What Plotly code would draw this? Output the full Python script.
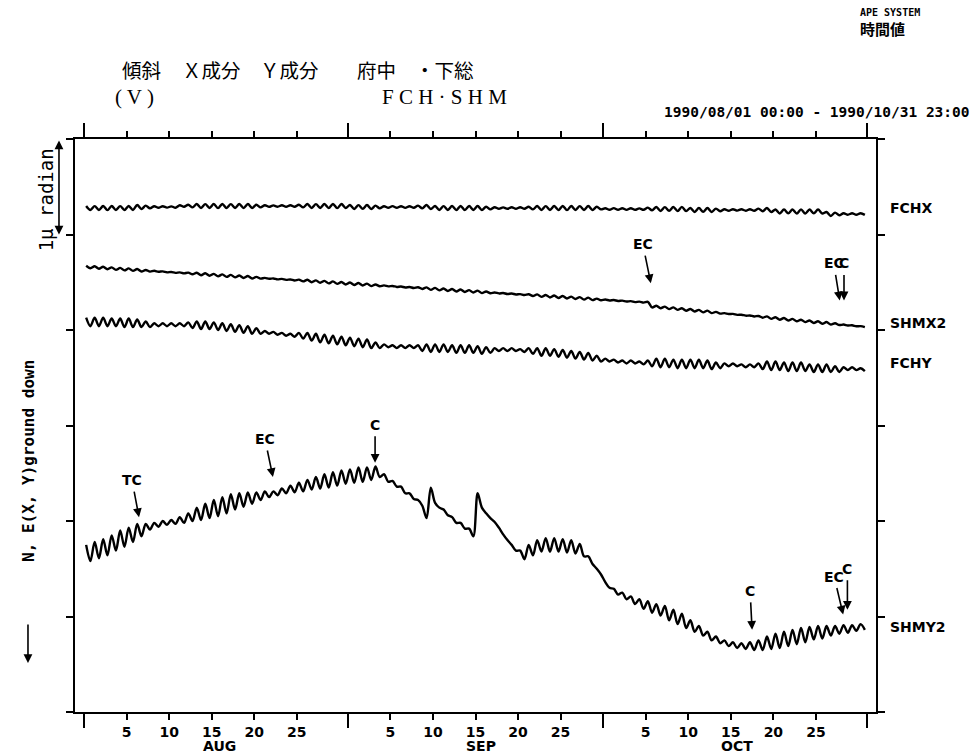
import plotly.graph_objects as go

# Hourly tilt record 1990/08/01 - 1990/10/31, read as alternating crest/trough
# values every 12 hours (units: micro-radian, stacked offsets per channel).
SAMPLE_STEP_DAYS = 0.5
SAMPLE_START_DAY = 0.25

fchx = [
    5.298, 5.256, 5.297, 5.257, 5.299, 5.255, 5.298, 5.256,
    5.297, 5.256, 5.299, 5.257, 5.309, 5.267, 5.302, 5.274,
    5.296, 5.280, 5.296, 5.281, 5.295, 5.280, 5.306, 5.290,
    5.312, 5.284, 5.319, 5.277, 5.318, 5.278, 5.319, 5.276,
    5.320, 5.277, 5.318, 5.278, 5.319, 5.277, 5.319, 5.278,
    5.312, 5.284, 5.306, 5.290, 5.305, 5.291, 5.306, 5.290,
    5.307, 5.290, 5.312, 5.284, 5.319, 5.277, 5.318, 5.278,
    5.319, 5.277, 5.320, 5.276, 5.319, 5.277, 5.309, 5.267,
    5.308, 5.268, 5.309, 5.267, 5.302, 5.274, 5.296, 5.280,
    5.297, 5.280, 5.296, 5.279, 5.296, 5.280, 5.302, 5.274,
    5.309, 5.267, 5.298, 5.256, 5.297, 5.257, 5.298, 5.256,
    5.299, 5.256, 5.298, 5.257, 5.298, 5.256, 5.291, 5.263,
    5.285, 5.269, 5.284, 5.269, 5.285, 5.270, 5.285, 5.269,
    5.291, 5.263, 5.298, 5.256, 5.297, 5.257, 5.298, 5.256,
    5.299, 5.255, 5.298, 5.256, 5.297, 5.257, 5.298, 5.256,
    5.291, 5.263, 5.275, 5.259, 5.276, 5.259, 5.275, 5.258,
    5.275, 5.259, 5.274, 5.259, 5.281, 5.253, 5.288, 5.246,
    5.287, 5.247, 5.288, 5.246, 5.289, 5.246, 5.278, 5.236,
    5.277, 5.237, 5.278, 5.236, 5.271, 5.243, 5.265, 5.249,
    5.265, 5.250, 5.264, 5.249, 5.265, 5.249, 5.271, 5.243,
    5.278, 5.236, 5.262, 5.220, 5.261, 5.221, 5.262, 5.220,
    5.263, 5.220, 5.262, 5.221, 5.262, 5.220, 5.236, 5.194,
    5.229, 5.201, 5.223, 5.207, 5.222, 5.207, 5.223, 5.206,
]

shmx2 = [
    4.673, 4.647, 4.667, 4.641, 4.662, 4.636, 4.656, 4.630,
    4.650, 4.624, 4.645, 4.619, 4.639, 4.613, 4.629, 4.611,
    4.620, 4.610, 4.614, 4.604, 4.608, 4.598, 4.603, 4.593,
    4.601, 4.583, 4.599, 4.573, 4.594, 4.568, 4.588, 4.562,
    4.582, 4.556, 4.577, 4.551, 4.571, 4.545, 4.565, 4.539,
    4.556, 4.538, 4.546, 4.536, 4.540, 4.530, 4.535, 4.525,
    4.529, 4.519, 4.527, 4.509, 4.526, 4.500, 4.520, 4.494,
    4.514, 4.488, 4.509, 4.483, 4.503, 4.477, 4.497, 4.471,
    4.492, 4.466, 4.486, 4.460, 4.476, 4.458, 4.467, 4.457,
    4.461, 4.451, 4.455, 4.445, 4.450, 4.440, 4.448, 4.430,
    4.446, 4.420, 4.441, 4.415, 4.435, 4.409, 4.429, 4.403,
    4.424, 4.398, 4.418, 4.392, 4.412, 4.386, 4.403, 4.385,
    4.393, 4.383, 4.387, 4.377, 4.382, 4.372, 4.376, 4.366,
    4.374, 4.356, 4.373, 4.347, 4.367, 4.341, 4.361, 4.335,
    4.356, 4.330, 4.350, 4.324, 4.344, 4.318, 4.339, 4.313,
    4.329, 4.311, 4.319, 4.309, 4.314, 4.304, 4.308, 4.298,
    4.302, 4.292, 4.297, 4.287, 4.295, 4.236, 4.254, 4.228,
    4.245, 4.219, 4.237, 4.211, 4.228, 4.202, 4.220, 4.194,
    4.211, 4.185, 4.203, 4.177, 4.190, 4.172, 4.177, 4.167,
    4.169, 4.159, 4.160, 4.150, 4.152, 4.142, 4.147, 4.129,
    4.143, 4.117, 4.134, 4.108, 4.125, 4.099, 4.117, 4.091,
    4.108, 4.082, 4.100, 4.074, 4.091, 4.065, 4.083, 4.057,
    4.070, 4.052, 4.057, 4.047, 4.049, 4.039, 4.040, 4.030,
]

fchy = [
    4.13, 4.04, 4.13, 4.04, 4.13, 4.04, 4.12, 4.04,
    4.12, 4.03, 4.12, 4.03, 4.11, 4.03, 4.09, 4.03,
    4.07, 4.04, 4.07, 4.04, 4.07, 4.04, 4.07, 4.04,
    4.08, 4.02, 4.09, 4.01, 4.09, 4.01, 4.08, 4.00,
    4.07, 3.99, 4.06, 3.98, 4.05, 3.97, 4.04, 3.96,
    4.02, 3.96, 3.99, 3.96, 3.98, 3.95, 3.97, 3.94,
    3.96, 3.93, 3.97, 3.91, 3.97, 3.89, 3.96, 3.87,
    3.95, 3.86, 3.94, 3.85, 3.93, 3.84, 3.92, 3.83,
    3.91, 3.82, 3.90, 3.81, 3.87, 3.81, 3.85, 3.82,
    3.84, 3.81, 3.84, 3.81, 3.84, 3.81, 3.84, 3.78,
    3.85, 3.77, 3.85, 3.77, 3.85, 3.77, 3.84, 3.76,
    3.84, 3.76, 3.84, 3.76, 3.83, 3.75, 3.82, 3.76,
    3.81, 3.78, 3.81, 3.78, 3.81, 3.78, 3.80, 3.77,
    3.81, 3.75, 3.81, 3.73, 3.81, 3.73, 3.80, 3.72,
    3.79, 3.71, 3.78, 3.70, 3.77, 3.69, 3.76, 3.68,
    3.73, 3.67, 3.70, 3.67, 3.69, 3.66, 3.68, 3.65,
    3.68, 3.65, 3.67, 3.64, 3.68, 3.62, 3.70, 3.61,
    3.70, 3.61, 3.69, 3.60, 3.69, 3.60, 3.69, 3.60,
    3.69, 3.60, 3.68, 3.59, 3.66, 3.60, 3.65, 3.62,
    3.65, 3.62, 3.64, 3.61, 3.64, 3.61, 3.65, 3.59,
    3.67, 3.58, 3.67, 3.58, 3.66, 3.57, 3.66, 3.57,
    3.66, 3.57, 3.64, 3.56, 3.64, 3.56, 3.64, 3.56,
    3.62, 3.56, 3.61, 3.58, 3.61, 3.58, 3.60, 3.57,
]

shmy2 = [
    1.75, 1.58, 1.78, 1.61, 1.81, 1.64, 1.85, 1.69,
    1.90, 1.73, 1.93, 1.78, 1.97, 1.84, 1.97, 1.91,
    1.98, 1.94, 2.00, 1.96, 2.01, 1.97, 2.04, 1.98,
    2.08, 2.00, 2.14, 2.01, 2.18, 2.03, 2.22, 2.05,
    2.25, 2.08, 2.28, 2.12, 2.29, 2.15, 2.30, 2.18,
    2.30, 2.22, 2.31, 2.25, 2.31, 2.27, 2.34, 2.29,
    2.37, 2.30, 2.40, 2.31, 2.43, 2.33, 2.46, 2.34,
    2.49, 2.35, 2.51, 2.37, 2.53, 2.39, 2.54, 2.40,
    2.56, 2.41, 2.56, 2.43, 2.57, 2.46, 2.49, 2.41,
    2.42, 2.36, 2.36, 2.29, 2.29, 2.23, 2.22, 2.16,
    2.03, 2.35, 2.19, 2.14, 2.12, 2.06, 2.04, 1.98,
    1.98, 1.92, 1.92, 1.84, 2.29, 2.14, 2.08, 2.03,
    1.99, 1.93, 1.86, 1.80, 1.75, 1.69, 1.69, 1.60,
    1.75, 1.64, 1.80, 1.68, 1.82, 1.68, 1.82, 1.68,
    1.81, 1.67, 1.80, 1.66, 1.76, 1.63, 1.63, 1.55,
    1.50, 1.44, 1.36, 1.30, 1.29, 1.23, 1.25, 1.18,
    1.21, 1.13, 1.18, 1.08, 1.16, 1.04, 1.13, 1.01,
    1.11, 0.96, 1.07, 0.92, 1.03, 0.88, 0.96, 0.84,
    0.90, 0.80, 0.84, 0.75, 0.79, 0.72, 0.75, 0.69,
    0.73, 0.67, 0.72, 0.66, 0.73, 0.65, 0.75, 0.65,
    0.79, 0.66, 0.82, 0.67, 0.84, 0.69, 0.86, 0.71,
    0.88, 0.73, 0.89, 0.76, 0.90, 0.77, 0.90, 0.80,
    0.90, 0.82, 0.91, 0.83, 0.91, 0.85, 0.92, 0.86,
]

channel_names = ["FCHX", "SHMX2", "FCHY", "SHMY2"]
channel_label_y = [5.28, 4.07, 3.65, 0.89]

# Calendar: days since 1990/08/01 00:00
month_starts = [0, 31, 61, 92]
month_names = ["AUG", "SEP", "OCT"]
month_label_x = [15.9, 46.6, 76.7]
day_marks = [5, 10, 15, 20, 25]
tick_vals = [m + d for m in month_starts[:3] for d in day_marks]
tick_text = [str(d) for _ in month_starts[:3] for d in day_marks]

# Event markers: (label, day, tilt value at arrow head, text offset x, text offset y)
events = [
    ("EC", 66.6, 4.49, -8, -39),
    ("EC", 88.8, 4.31, -6, -37),
    ("C", 89.3, 4.31, 0, -37),
    ("TC", 6.46, 2.04, -7, -37),
    ("EC", 22.2, 2.46, -8, -38),
    ("C", 34.2, 2.61, 0, -38),
    ("C", 78.5, 0.86, -2, -39),
    ("EC", 89.2, 1.02, -9, -38),
    ("C", 89.7, 1.07, 0, -41),
]

# Scale bar: one tick interval equals 1 micro-radian
scale_bar = (5.0, 6.0)

times = [SAMPLE_START_DAY + SAMPLE_STEP_DAYS * i for i in range(len(shmy2))]

fig = go.Figure()
for series in (fchx, shmx2, fchy, shmy2):
    fig.add_trace(go.Scatter(
        x=times, y=series, mode="lines",
        line=dict(color="black", width=2.4, shape="spline", smoothing=0.9),
        showlegend=False, hoverinfo="skip",
    ))

BOLD = dict(family="DejaVu Sans", size=14, color="black", weight="bold")
MONO = dict(family="DejaVu Sans Mono", color="black", weight="bold")

annotations = []

for name, yv in zip(channel_names, channel_label_y):
    annotations.append(dict(
        text=name, x=1.015, xref="paper", y=yv, yref="y",
        xanchor="left", yanchor="middle", showarrow=False, font=BOLD,
    ))

for name, xv in zip(month_names, month_label_x):
    annotations.append(dict(
        text=name, x=xv, xref="x", y=-0.059, yref="paper",
        xanchor="center", yanchor="middle", showarrow=False, font=BOLD,
    ))

for label, day, val, dx, dy in events:
    annotations.append(dict(
        text=label, x=day, y=val, xref="x", yref="y",
        ax=dx, ay=dy, showarrow=True,
        arrowhead=2, arrowsize=1.1, arrowwidth=1.6, arrowcolor="black",
        standoff=0, startstandoff=2, font=BOLD,
    ))

annotations.append(dict(
    text="", x=-0.02, xref="paper", y=scale_bar[0], yref="y",
    ax=0, axref="pixel", ay=scale_bar[1], ayref="y", showarrow=True,
    arrowhead=2, arrowside="end+start", arrowsize=1.1,
    arrowwidth=1.6, arrowcolor="black",
))
annotations.append(dict(
    text="1μ radian", x=-0.0362, y=0.893, xref="paper", yref="paper",
    textangle=-90, showarrow=False, xanchor="center", yanchor="middle",
    font=dict(family="DejaVu Sans Mono", size=19, color="black"),
))
annotations.append(dict(
    text="N, E(X, Y)ground down", x=-0.0587, y=0.438,
    xref="paper", yref="paper", textangle=-90, showarrow=False,
    xanchor="center", yanchor="middle", font=dict(MONO, size=16),
))
annotations.append(dict(
    text="", x=-0.0587, y=0.0855, xref="paper", yref="paper",
    ax=0, ay=-40, showarrow=True, arrowhead=2, arrowsize=1.1,
    arrowwidth=1.6, arrowcolor="black",
))

# Header texts
CJK = dict(family="Noto Sans CJK JP", size=19.5, color="black")
header = [
    ("傾斜", 0.0562), ("Ｘ成分", 0.1311), ("Ｙ成分", 0.2285),
    ("府中", 0.3496), ("・下総", 0.4220),
]
for txt, xp in header:
    annotations.append(dict(
        text=txt, x=xp, y=1.1215, xref="paper", yref="paper",
        xanchor="left", yanchor="middle", showarrow=False, font=CJK,
    ))
annotations.append(dict(
    text="( V )", x=0.0474, y=1.0735, xref="paper", yref="paper",
    xanchor="left", yanchor="middle", showarrow=False,
    font=dict(family="Liberation Serif", size=21, color="black"),
))
annotations.append(dict(
    text="F C H · S H M", x=0.3808, y=1.0735, xref="paper", yref="paper",
    xanchor="left", yanchor="middle", showarrow=False,
    font=dict(family="Liberation Serif", size=21, color="black"),
))
annotations.append(dict(
    text="1990/08/01 00:00 - 1990/10/31 23:00", x=1.1199, y=1.0471,
    xref="paper", yref="paper", xanchor="right", yanchor="middle",
    showarrow=False, font=dict(MONO, size=14.5),
))
annotations.append(dict(
    text="APE SYSTEM", x=0.9775, y=1.2199, xref="paper", yref="paper",
    xanchor="left", yanchor="middle", showarrow=False,
    font=dict(MONO, size=10),
))
annotations.append(dict(
    text="時間値", x=0.9775, y=1.1937, xref="paper", yref="paper",
    xanchor="left", yanchor="middle", showarrow=False,
    font=dict(family="Noto Sans CJK JP", size=15, color="black", weight="bold"),
))

fig.update_layout(
    width=974, height=755, autosize=False,
    margin=dict(l=75, r=98, t=139, b=43, pad=0),
    paper_bgcolor="white", plot_bgcolor="white",
    annotations=annotations,
    xaxis=dict(
        range=[-1.06, 93.06], showgrid=False, zeroline=False,
        showline=True, linecolor="black", linewidth=2, mirror="ticks",
        ticks="outside", ticklen=6, tickwidth=2, tickcolor="black",
        tickmode="array", tickvals=tick_vals, ticktext=tick_text,
        tickfont=BOLD,
        minor=dict(tickmode="array", tickvals=month_starts, ticks="outside",
                   ticklen=14, tickwidth=2, tickcolor="black", showgrid=False),
    ),
    yaxis=dict(
        range=[0, 6], showgrid=False, zeroline=False,
        showline=True, linecolor="black", linewidth=2, mirror="ticks",
        ticks="outside", ticklen=7, tickwidth=2, tickcolor="black",
        tickmode="array", tickvals=[0, 1, 2, 3, 4, 5, 6],
        showticklabels=False,
    ),
)

fig.write_html("out.html")
